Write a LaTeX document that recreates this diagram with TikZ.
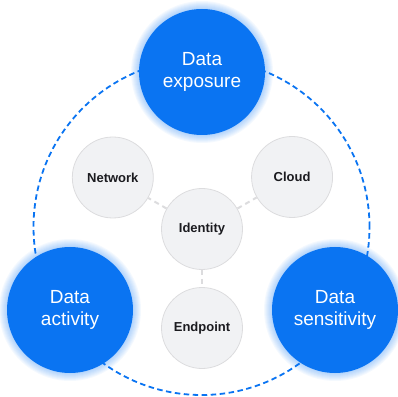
\documentclass[tikz,border=0pt]{standalone}
\usepackage{fontspec}
\setmainfont{Liberation Sans}
\usetikzlibrary{positioning}

\definecolor{dblue}{HTML}{0A74F2}
\definecolor{cfill}{HTML}{F1F2F4}
\definecolor{cline}{HTML}{DCDCDE}
\definecolor{ctext}{HTML}{1B1B1F}

\begin{document}
\begin{tikzpicture}[x=1pt, y=1pt,
  bigc/.style={circle, fill=dblue, minimum size=126pt, inner sep=0pt, align=center,
    text=white, font=\fontsize{19}{22}\selectfont},
  smallc/.style={circle, fill=cfill, draw=cline, line width=0.8pt, minimum size=81pt,
    inner sep=0pt, text=ctext, font=\fontsize{13}{15}\selectfont\bfseries},
  link/.style={draw=cline, line width=2pt, dash pattern=on 5pt off 4pt}]

\useasboundingbox (0,0) rectangle (398,396);

\def \ringradius {168}
\def \glow {8} % width of the soft halo round the big circles

% outer ring
\draw[dblue, line width=1.8pt, dash pattern=on 5.5pt off 3.5pt] (201.5,169) circle (\ringradius);

% halo
\foreach \x/\y in {202/324, 70/86, 335/86}
  \foreach \g in {1,...,\glow}
    \fill[dblue, opacity=0.045] (\x,\y) circle ({63+\g});

\node[bigc] (exposure) at (202,324) {Data\\exposure};
\node[bigc] (activity) at (70,86) {Data\\activity};
\node[bigc] (sensitivity) at (335,86) {Data\\sensitivity};

\node[smallc] (identity) at (202,167) {Identity};
\foreach \name/\ang/\dist/\txt in {network/150/103/Network, cloud/30/104/Cloud, endpoint/270/99/Endpoint}
{
  \node[smallc] (\name) at ([shift={(\ang:\dist)}]identity) {\txt};
  \draw[link] (identity) -- (\name);
}
\end{tikzpicture}
\end{document}
